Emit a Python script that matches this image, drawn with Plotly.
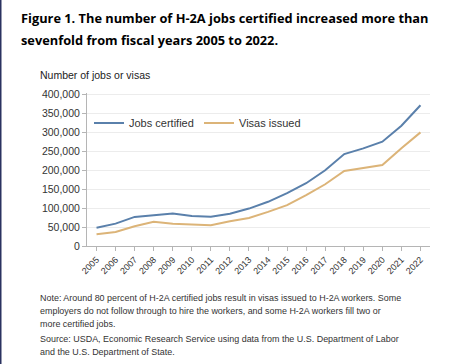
import plotly.graph_objects as go

years = [str(y) for y in range(2005, 2023)]
jobs_certified = [48336, 59112, 76814, 82099, 86014, 79011, 77246, 85248, 98814,
                  116689, 139832, 165741, 200049, 242762, 257666, 275430, 317619, 371619]
visas_issued = [31000, 37000, 52000, 64000, 59000, 56000, 55000, 65500, 74000,
                90000, 108000, 134500, 163000, 198000, 205000, 214000, 258000, 300000]
y_ticks = [0, 50000, 100000, 150000, 200000, 250000, 300000, 350000, 400000]
y_tick_labels = ["0", "50,000", "100,000", "150,000", "200,000", "250,000",
                 "300,000", "350,000", "400,000"]

W, H = 463, 364
L, R, T, B = 87, 33, 93, 118
PW = W - L - R
PH = H - T - B


def px(x):
    return (x - L) / PW


def py(y):
    return (H - B - y) / PH


fig = go.Figure()
fig.add_trace(go.Scatter(x=years, y=jobs_certified, mode="lines", name="Jobs certified",
                         line=dict(color="#5a80ab", width=2)))
fig.add_trace(go.Scatter(x=years, y=visas_issued, mode="lines", name="Visas issued",
                         line=dict(color="#dcb478", width=2)))

font = "Liberation Sans, Arial, sans-serif"
fig.update_layout(
    width=W, height=H,
    margin=dict(l=L, r=R, t=T, b=B, pad=0),
    paper_bgcolor="white", plot_bgcolor="white",
    font=dict(family=font, size=10, color="#333333"),
    showlegend=True,
    legend=dict(orientation="h", x=px(89), y=py(123), xanchor="left", yanchor="middle",
                bgcolor="rgba(0,0,0,0)", font=dict(size=11, color="#333333"),
                itemwidth=30, tracegroupgap=0, entrywidth=65, entrywidthmode="pixels"),
    xaxis=dict(type="category", range=[-0.5, 17.5], showgrid=False, showline=True,
               linecolor="#b5b5b5", linewidth=1, ticks="outside", ticklen=4,
               tickcolor="#b5b5b5", tickangle=-45, tickfont=dict(size=9, color="#333333")),
    yaxis=dict(range=[0, 404000], tickvals=y_ticks, ticktext=y_tick_labels,
               showgrid=True, gridcolor="#ececec", gridwidth=1, showline=True,
               linecolor="#b5b5b5", linewidth=1, ticks="outside", ticklen=4,
               tickcolor="#b5b5b5", zeroline=False, tickfont=dict(size=10.5, color="#333333")),
)

anns = [
    dict(text="<b>Figure 1. The number of H-2A jobs certified increased more than</b>",
         x=px(19), y=py(18), size=12.8, color="#000000", family="Open Sans, sans-serif"),
    dict(text="<b>sevenfold from fiscal years 2005 to 2022.</b>",
         x=px(19), y=py(40), size=12.8, color="#000000", family="Open Sans, sans-serif"),
    dict(text="Number of jobs or visas", x=px(38), y=py(75), size=10.5, color="#222222",
         family=font),
]
notes = [
    "Note: Around 80 percent of H-2A certified jobs result in visas issued to H-2A workers. Some",
    "employers do not follow through to hire the workers, and some H-2A workers fill two or",
    "more certified jobs.",
    "Source: USDA, Economic Research Service using data from the U.S. Department of Labor",
    "and the U.S. Department of State.",
]
note_y = [298, 311, 324, 339, 352]
for t, yy in zip(notes, note_y):
    anns.append(dict(text=t, x=px(38), y=py(yy), size=8.95, color="#333333", family=font))

for a in anns:
    fig.add_annotation(text=a["text"], xref="paper", yref="paper", x=a["x"], y=a["y"],
                       xanchor="left", yanchor="middle", showarrow=False,
                       font=dict(size=a["size"], color=a["color"], family=a["family"]))

fig.add_shape(type="rect", xref="paper", yref="paper", x0=px(0), x1=px(1.5),
              y0=py(H), y1=py(0), fillcolor="#2b3260", line=dict(width=0), layer="above")

fig.write_html("out.html", config={"displayModeBar": False},
               post_script="document.body.style.margin='0';document.body.style.padding='0';")
